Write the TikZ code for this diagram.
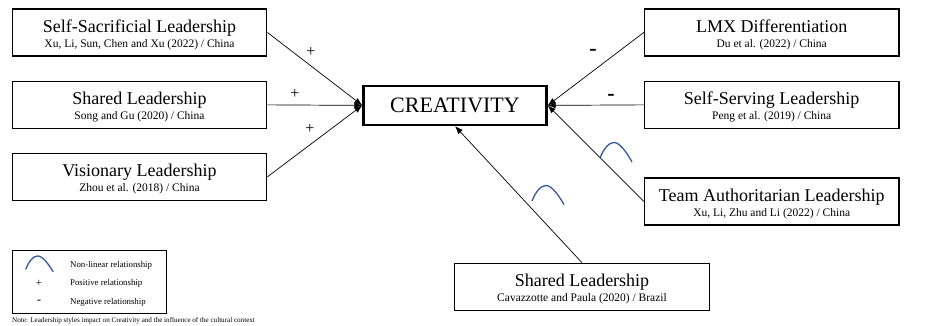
\documentclass[tikz,border=0pt]{standalone}
\usepackage{fontspec}
\setmainfont{Liberation Serif}
\usetikzlibrary{arrows.meta}

\definecolor{bumpblue}{RGB}{52,88,158}

\tikzset{
  leadframe/.style={draw, line width=1.3pt, minimum width=254.5pt, minimum height=47pt, inner sep=0pt},
  titletext/.style={inner sep=0pt, font=\fontsize{18}{20}\selectfont},
  reftext/.style={inner sep=0pt, font=\fontsize{11.5}{13}\selectfont},
  link/.style={line width=0.7pt, -{Latex[length=8pt,width=6pt]}},
  signtext/.style={inner sep=0pt, font=\fontsize{16}{17}\selectfont},
  minustext/.style={inner sep=0pt, font=\fontsize{22}{23}\selectfont\bfseries},
  bump/.style={draw=bumpblue, line width=1.3pt},
  legendtext/.style={inner sep=0pt, anchor=west, font=\fontsize{8.8}{10}\selectfont},
}

% framed study box: name, centre x, top y, construct, reference
\newcommand\leadbox[5]{%
  \node[leadframe, anchor=north] (#1) at (#2,#3) {};
  \node[titletext, anchor=base] (#1-t) at (#2,#3+24) {#4};
  \node[reftext, anchor=base] (#1-r) at (#2,#3+39) {#5};
}

% inverted-U mark for a non-linear effect
\newcommand\bumpmark[3][1]{%
  \draw[bump, shift={#2}, scale=#1] (0,0) .. controls (4,-10) and (9,-15.5) .. (14,-15.5)
    .. controls (20,-15.5) and (27,-5) .. (32,#3);
}

\begin{document}
\begin{tikzpicture}[x=1pt,y=-1pt]
\useasboundingbox (0,0) rectangle (936,326);

% central outcome
\node[draw, line width=2.4pt, minimum width=183pt, minimum height=39pt, inner sep=0pt,
      font=\fontsize{22}{24}\selectfont] (cre) at (455,105.4) {CREATIVITY};

% antecedents on the left
\leadbox{ssl}{139.5}{8.3}{Self-Sacrificial Leadership}{Xu, Li, Sun, Chen and Xu (2022) / China}
\leadbox{shl}{139.5}{80.7}{Shared Leadership}{Song and Gu (2020) / China}
\leadbox{vil}{139.5}{152.7}{Visionary Leadership}{Zhou et al. (2018) / China}

% antecedents on the right
\leadbox{lmx}{771.7}{8.3}{LMX Differentiation}{Du et al. (2022) / China}
\leadbox{sel}{771.7}{80.7}{Self-Serving Leadership}{Peng et al. (2019) / China}
\leadbox{tal}{771.7}{177.3}{Team Authoritarian Leadership}{Xu, Li, Zhu and Li (2022) / China}

% antecedent below
\leadbox{shb}{582}{262.7}{Shared Leadership}{Cavazzotte and Paula (2020) / Brazil}

% effects on creativity
\draw[link] (ssl.east) -- (cre.west);
\draw[link] (shl.east) -- (cre.west);
\draw[link] (vil.east) -- (cre.west);
\draw[link] (lmx.west) -- (cre.east);
\draw[link] (sel.west) -- (cre.east);
\draw[link] (tal.west) -- (cre.east);
\draw[link] (shb.north) -- (cre.south);

% signs of the effects
\node[signtext] (p1) at (311,52) {+};
\node[signtext] (p2) at (295,93.5) {+};
\node[signtext] (p3) at (310,128.5) {+};
\node[minustext] (m1) at (593,52) {-};
\node[minustext] (m2) at (611,97) {-};
\bumpmark{(600,158)}{4}
\bumpmark{(532,201)}{3.5}

% legend
\node[draw, line width=1.2pt, minimum width=153.7pt, minimum height=62.7pt, inner sep=0pt,
      anchor=north west] (legend) at (12,250) {};
\bumpmark[0.86]{(25.7,269.3)}{2.8}
\node[legendtext] (l1) at (70,265) {Non-linear relationship};
\node[inner sep=0pt, font=\fontsize{11}{12}\selectfont] (l2s) at (39,283) {+};
\node[inner sep=0pt, font=\fontsize{12}{13}\selectfont\bfseries] (l3s) at (39,301.5) {-};
\node[legendtext] (l2) at (70,283.5) {Positive relationship};
\node[legendtext] (l3) at (70,302) {Negative relationship};

\node[inner sep=0pt, anchor=west, font=\fontsize{7.1}{8.5}\selectfont] (note) at (12,320.5)
  {Note: Leadership styles impact on Creativity and the influence of the cultural context};
\end{tikzpicture}
\end{document}
